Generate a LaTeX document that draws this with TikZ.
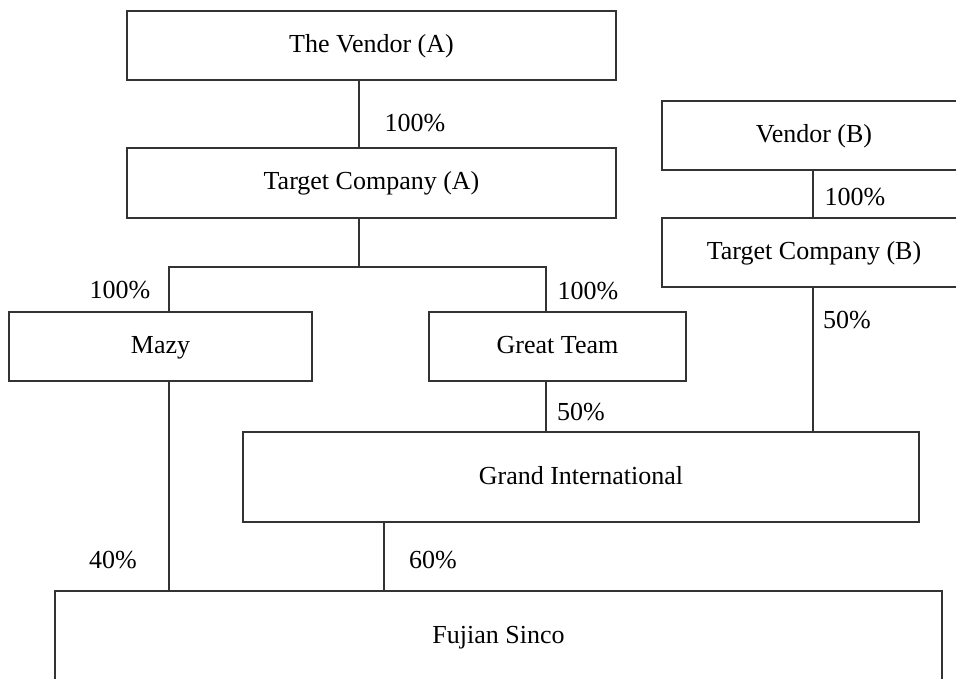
\documentclass[tikz,border=0pt]{standalone}
\usepackage{fontspec}
\setmainfont{Liberation Serif}
\begin{document}
\begin{tikzpicture}[x=1pt,y=-1pt,
  boxnode/.style={draw=black!80,line width=1.6pt,rectangle,inner sep=0pt,font=\fontsize{26}{30}\selectfont,text height=18pt,text depth=4pt},
  pct/.style={inner sep=0pt,font=\fontsize{26}{30}\selectfont},
  conn/.style={draw=black!80,line width=1.6pt}]
\clip (0,0) rectangle (956,679);
\fill[white] (0,0) rectangle (956,679);
% boxes
\node[boxnode,minimum width=489pt,minimum height=69pt] (va) at (371.5,45.5) {The Vendor (A)};
\node[boxnode,minimum width=489pt,minimum height=70pt] (tca) at (371.5,183) {Target Company (A)};
\node[boxnode,minimum width=304pt,minimum height=69pt] (vb) at (814,135.5) {Vendor (B)};
\node[boxnode,minimum width=304pt,minimum height=69pt] (tcb) at (814,252.5) {Target Company (B)};
\node[boxnode,minimum width=303pt,minimum height=69pt] (mazy) at (160.5,346.5) {Mazy};
\node[boxnode,minimum width=257pt,minimum height=69pt] (gt) at (557.5,346.5) {Great Team};
\node[boxnode,minimum width=676pt,minimum height=90pt] (gi) at (581,477) {Grand International};
\node[boxnode,minimum width=887pt,minimum height=90pt] (fs) at (498.5,636) {Fujian Sinco};
% x positions of connectors
\coordinate (xa) at (359,0);
\coordinate (xm) at (169,0);
\coordinate (xg) at (546,0);
\coordinate (xb) at (813,0);
\coordinate (xf) at (384,0);
\coordinate (bar) at (0,267);
% connectors
\draw[conn] (va.south -| xa) -- (tca.north -| xa);
\draw[conn] (tca.south -| xa) -- (xa |- bar);
\draw[conn] (mazy.north -| xm) -- (xm |- bar) -- (xg |- bar) -- (gt.north -| xg);
\draw[conn] (vb.south -| xb) -- (tcb.north -| xb);
\draw[conn] (tcb.south -| xb) -- (gi.north -| xb);
\draw[conn] (gt.south -| xg) -- (gi.north -| xg);
\draw[conn] (mazy.south -| xm) -- (fs.north -| xm);
\draw[conn] (gi.south -| xf) -- (fs.north -| xf);
% percentages
\node[pct] (p1) at (415,123) {100\%};
\node[pct] (p2) at (120,290) {100\%};
\node[pct] (p3) at (588,291) {100\%};
\node[pct] (p4) at (855,197) {100\%};
\node[pct] (p5) at (847,320) {50\%};
\node[pct] (p6) at (581,412) {50\%};
\node[pct] (p7) at (113,560) {40\%};
\node[pct] (p8) at (433,560) {60\%};
\end{tikzpicture}
\end{document}
